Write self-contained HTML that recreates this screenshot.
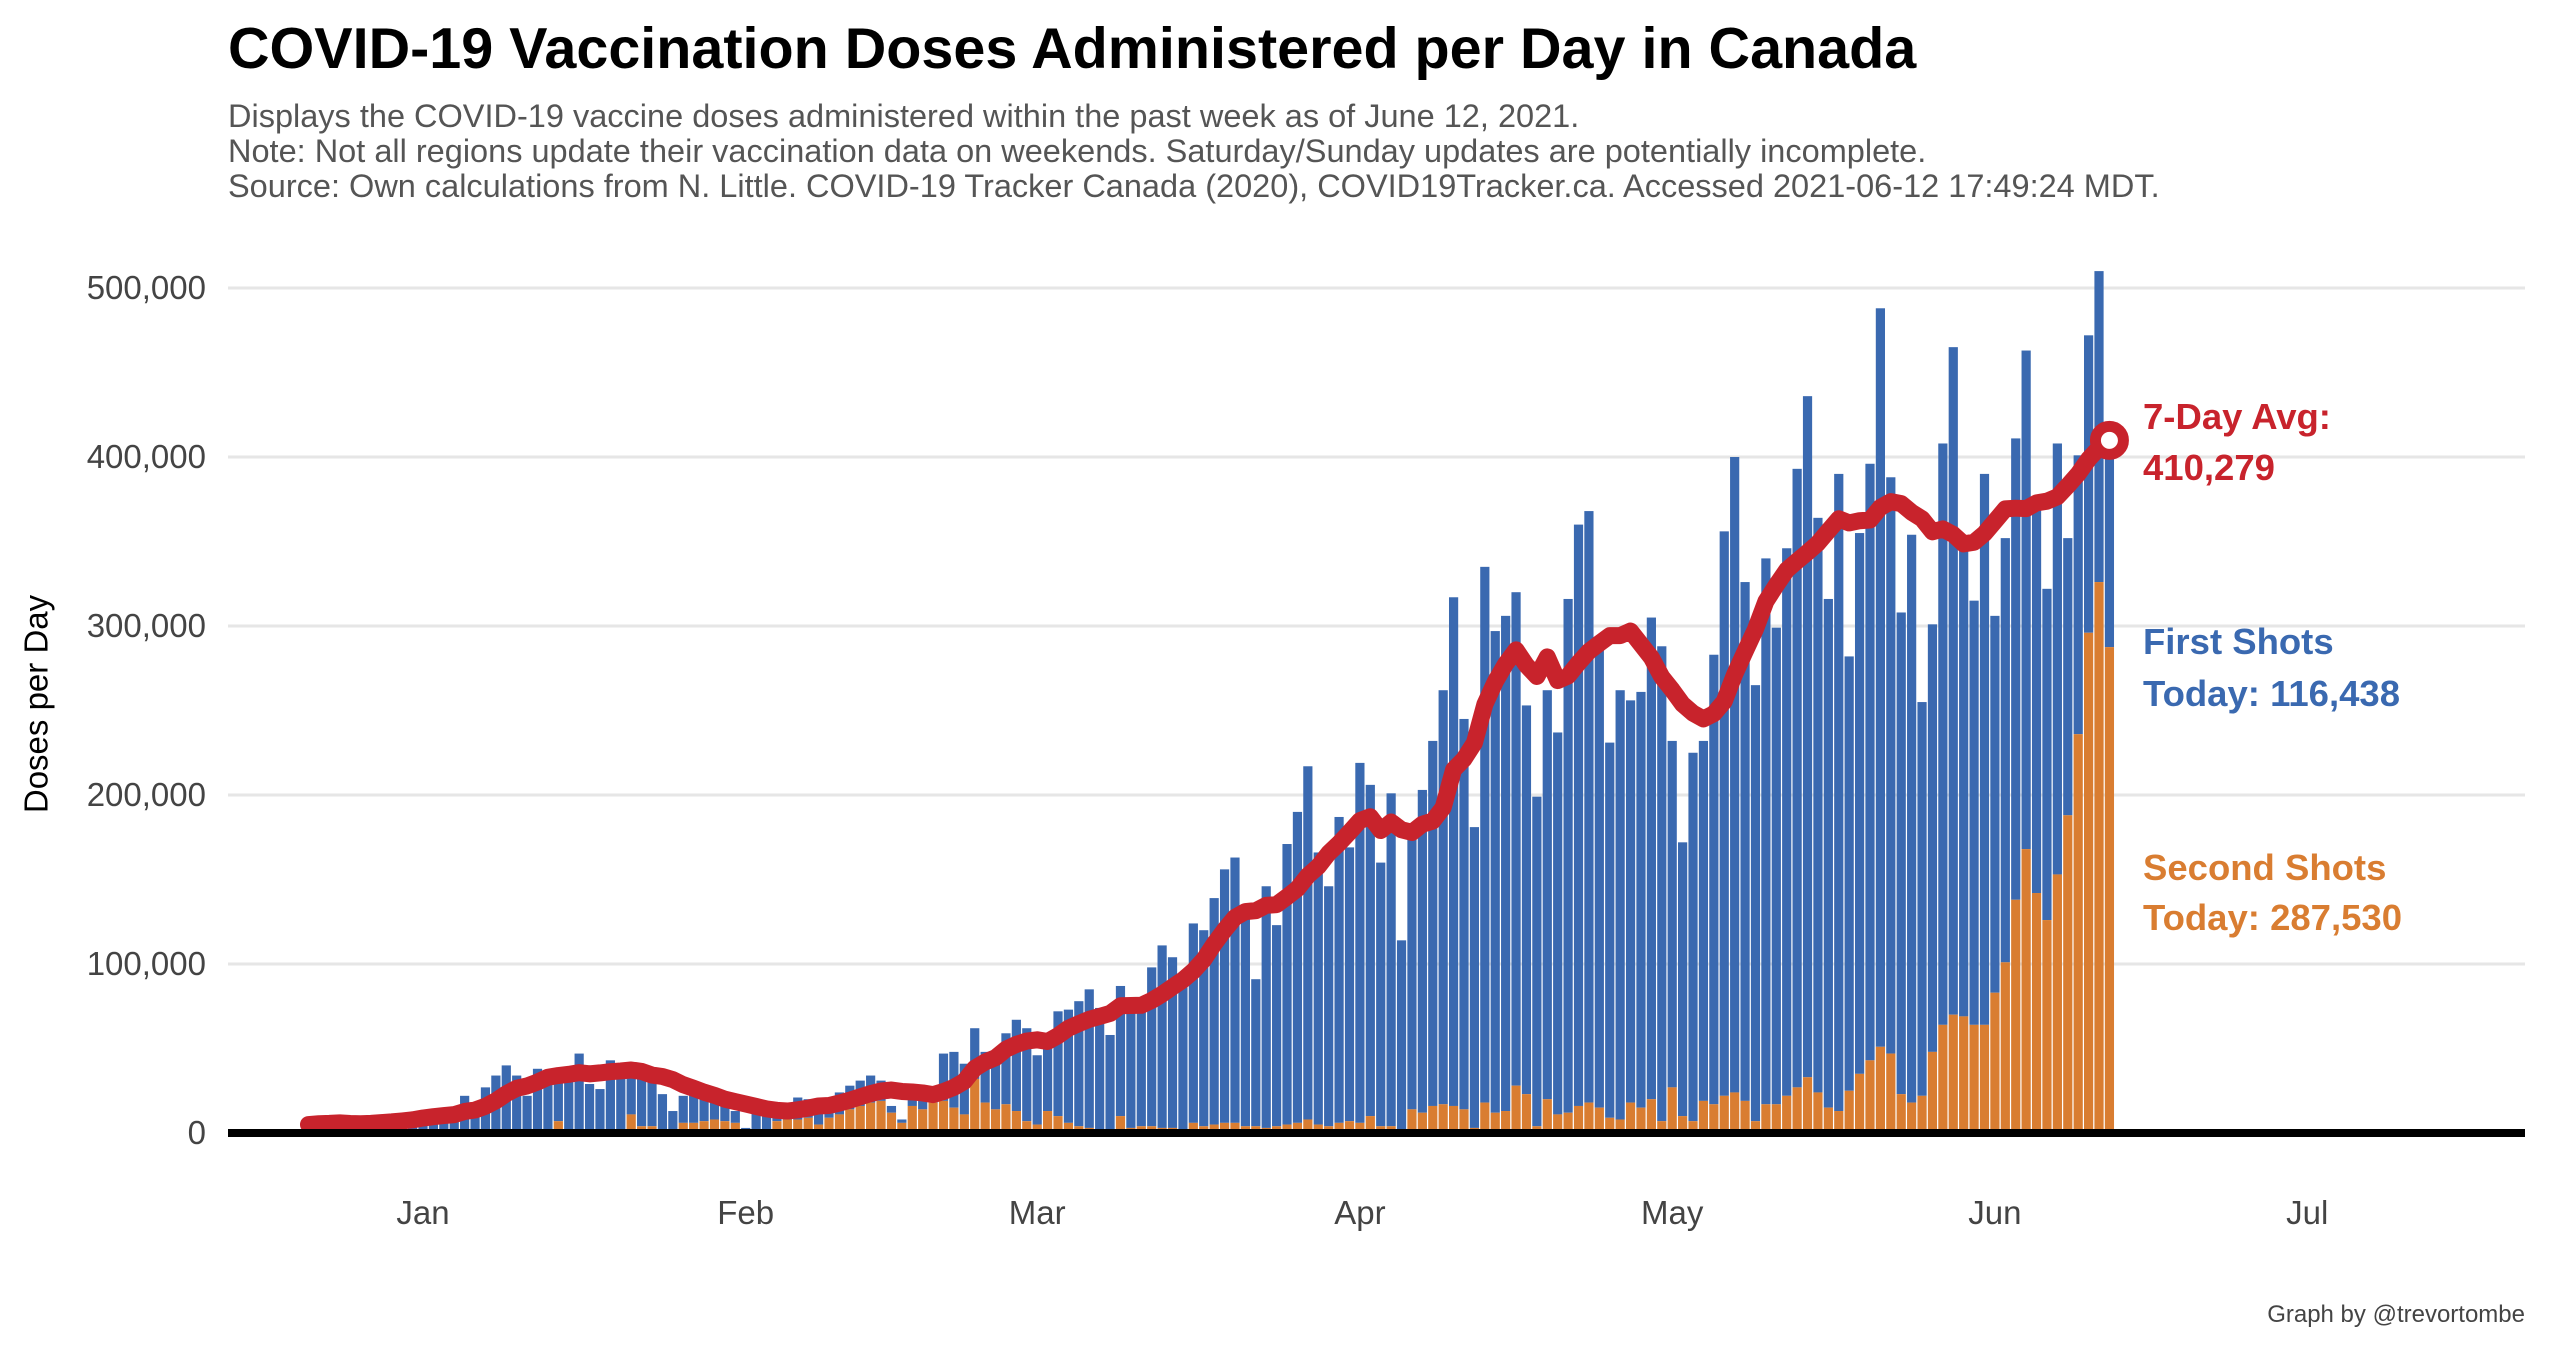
<!DOCTYPE html>
<html><head><meta charset="utf-8"><style>
body{margin:0;background:#fff;}
svg{display:block;font-family:"Liberation Sans",Arial,sans-serif;}
</style></head>
<body>
<svg id="chart" width="2550" height="1350" viewBox="0 0 2550 1350">
<text x="228" y="68" font-size="57.5" font-weight="bold" fill="#000">COVID-19 Vaccination Doses Administered per Day in Canada</text>
<text x="228" y="127" font-size="32.5" fill="#555">Displays the COVID-19 vaccine doses administered within the past week as of June 12, 2021.</text>
<text x="228" y="162" font-size="32.5" fill="#555">Note: Not all regions update their vaccination data on weekends. Saturday/Sunday updates are potentially incomplete.</text>
<text x="228" y="197" font-size="32.5" fill="#555">Source: Own calculations from N. Little. COVID-19 Tracker Canada (2020), COVID19Tracker.ca. Accessed 2021-06-12 17:49:24 MDT.</text>
<g id="grid"></g>
<g id="bars"></g>
<g id="line"></g>
<g id="axes"></g>
<text x="39" y="704" font-size="33" fill="#000" text-anchor="middle" transform="rotate(-90 39 704)" dominant-baseline="middle">Doses per Day</text>
<g font-weight="bold" font-size="36.5">
<text x="2143" y="429" fill="#c8232c">7-Day Avg:</text>
<text x="2143" y="480" fill="#c8232c">410,279</text>
<text x="2143" y="654" fill="#3a69b0">First Shots</text>
<text x="2143" y="706" fill="#3a69b0">Today: 116,438</text>
<text x="2143" y="880" fill="#d97d31">Second Shots</text>
<text x="2143" y="930" fill="#d97d31">Today: 287,530</text>
</g>
<text x="2525" y="1322" font-size="24" fill="#444" text-anchor="end">Graph by @trevortombe</text>
</svg>
<script>
// day offset of first bar from Jan 1, 2021 (Dec 21, 2020)
const startDay = -11;
// total doses per day (thousands)
const totals = [
5,6,6,7,4,5,7,8,9,10,
11.5,
11.5,10.7,11.5,12,22,16,27,34,40,34,22,38,36,34,39,47,29,26,43,39,38,33,32,23,13,22,24,22,20,16,13,
3,12,14,16,17,21,20,12,14,24,28,31,34,31,16,8,22,24,24,47,48,41,
62,48,42,59,67,62,46,55,72,73,78,85,74,58,87,73,74,98,111,104,87,124,120,139,156,163,128,91,146,123,171,190,217,166,146,187,169,219,206,160,201,114,176,203,232,262,317,245,181,335,
297,306,320,253,199,262,237,316,360,368,286,231,262,256,261,305,288,232,172,225,232,283,356,400,326,265,340,299,346,393,436,364,316,390,282,355,396,488,388,308,354,255,301,408,465,349,315,390,306,352,411,463,373,322,408,352,401,472,510,404
];
// second doses per day (thousands)
const second = [
0,0,0,0,0,0,0,0,0,0,
0,
0,0,0,0,0,0,0,0,0,0,0,0,0,7,0.6,1,0,0,0,1,11,4,4,2,0.5,6,6,7,8,7,6,
0,2,2,7,8,8,9,5,9,11,14,16,18,19,12,6,16,14,18,19,15,11,
32,18,14,17,13,7,5,13,10,6,4,3,2,2,10,3,4,4,3,3,2,6,4,5,6,6,4,4,3,4,5,6,8,5,4,6,7,6,10,4,4,2,14,12,16,17,16,14,3,18,
12,13,28,23,4,20,11,12,16,18,15,9,8,18,15,20,7,27,10,7,19,17,22,24,19,7,17,17,22,27,33,24,15,13,25,35,43,51,47,23,18,22,48,64,70,69,64,64,83,101,138,168,142,126,153,188,236,296,326,287.5
];
const yTicks = [0,100000,200000,300000,400000,500000];
const yTickLabels = ["0","100,000","200,000","300,000","400,000","500,000"];
const monthNames = ["Jan","Feb","Mar","Apr","May","Jun","Jul"];
const monthDays = [0,31,59,90,120,151,181];

const NS="http://www.w3.org/2000/svg";
function xDay(d){return 423 + d*10.41;}
function yVal(v){return 1133 - v*0.001690;}
function mk(tag,attrs,parent){const e=document.createElementNS(NS,tag);for(const k in attrs)e.setAttribute(k,attrs[k]);parent.appendChild(e);return e;}
const grid=document.getElementById('grid'),bars=document.getElementById('bars'),line=document.getElementById('line'),axes=document.getElementById('axes');

yTicks.forEach((t,i)=>{
  const y=yVal(t);
  if(t>0){const g=mk('line',{x1:228,x2:2525,y1:y,y2:y,stroke:'#e6e6e6','stroke-width':3},grid);
  
  }
  const tx=mk('text',{x:206,y:y+11,'font-size':33,fill:'#444','text-anchor':'end'},axes);
  tx.textContent=yTickLabels[i];
  
  
});
monthNames.forEach((m,i)=>{
  const tx=mk('text',{x:xDay(monthDays[i]),y:1224,'font-size':33,fill:'#444','text-anchor':'middle'},axes);
  tx.textContent=m;
  
  
});

totals.forEach((tot,i)=>{
  const x=xDay(startDay+i)-4.6;
  const s=second[i]*1000, t=tot*1000;
  const b=mk('rect',{x:x,y:yVal(t),width:9.2,height:yVal(s)-yVal(t),fill:'#3a69b0'},bars);
  
  
  if(s>0){const o=mk('rect',{x:x,y:yVal(s),width:9.2,height:1133-yVal(s),fill:'#d97d31'},bars);
  
  }
});
const zl=mk('line',{x1:228,x2:2525,y1:1133,y2:1133,stroke:'#000','stroke-width':8},axes);



// 7-day trailing average
const pts=[];
totals.forEach((t,i)=>{
  const lo=Math.max(0,i-6);let sum=0;for(let j=lo;j<=i;j++)sum+=totals[j];
  const avg=sum/(i-lo+1)*1000;
  pts.push([xDay(startDay+i),yVal(avg)]);
});
const pl=mk('polyline',{points:pts.map(p=>p.join(',')).join(' '),fill:'none',stroke:'#c8232c','stroke-width':17,'stroke-linejoin':'round','stroke-linecap':'round'},line);


const last=pts[pts.length-1];
const c=mk('circle',{cx:last[0],cy:last[1],r:14,fill:'#fff',stroke:'#c8232c','stroke-width':11},line);


</script>
</body></html>
